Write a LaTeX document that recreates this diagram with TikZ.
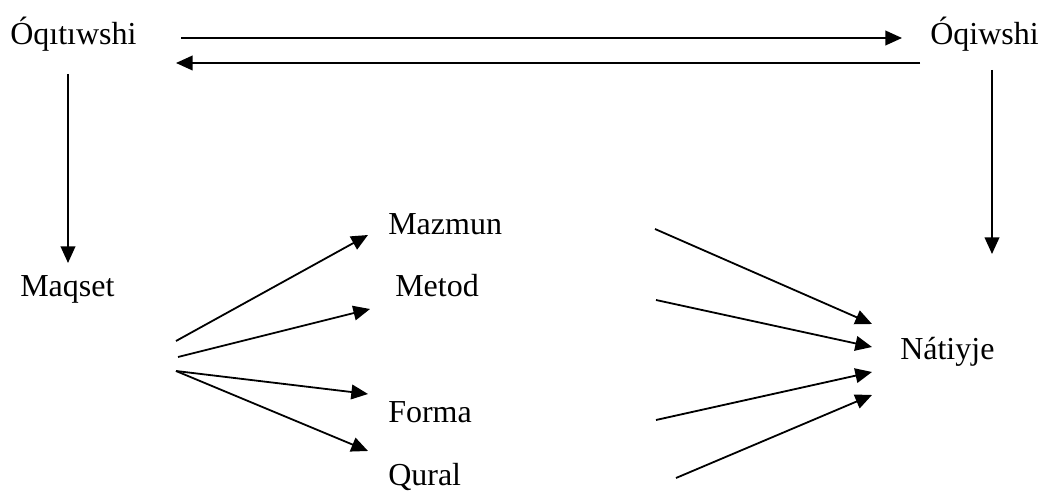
\documentclass[tikz,border=0pt]{standalone}
\usepackage{fontspec}
\setmainfont{Liberation Serif}
\usetikzlibrary{arrows.meta}
\tikzset{
  lbl/.style={anchor=base west, inner sep=0pt, font=\fontsize{24}{28}\selectfont},
  arr/.style={line width=1.35pt, -{Triangle[length=12.5pt,width=11pt]}}
}
\begin{document}
\begin{tikzpicture}[x=0.75pt,y=-0.75pt]
\useasboundingbox (0,0) rectangle (1040,491);
% labels
\node[lbl] (teacher) at (10,45) {Óqıtıwshi};
\node[lbl] (student) at (930,45) {Óqiwshi};
\node[lbl] (goal) at (20,297) {Maqset};
\node[lbl] (content) at (388,235) {Mazmun};
\node[lbl] (method) at (395,297) {Metod};
\node[lbl] (form) at (388,423) {Forma};
\node[lbl] (tool) at (388,486) {Qural};
\node[lbl] (result) at (900,360) {Nátiyje};
% connector end points
\coordinate (t1s) at (181,38);  \coordinate (t1e) at (902,38);
\coordinate (t2s) at (920,63);  \coordinate (t2e) at (176,63);
\coordinate (v1s) at (68,74);   \coordinate (v1e) at (68,263);
\coordinate (v2s) at (992,70);  \coordinate (v2e) at (992,254);
\coordinate (g1) at (176,341); \coordinate (c1) at (368,235);
\coordinate (g2) at (178,357); \coordinate (m1) at (370,309);
\coordinate (g3) at (176,371); \coordinate (f1) at (368,394);
\coordinate (q1) at (368,451);
\coordinate (c2) at (655,229); \coordinate (r1) at (872,324);
\coordinate (m2) at (656,300); \coordinate (r2) at (872,347);
\coordinate (f2) at (656,420); \coordinate (r3) at (872,372);
\coordinate (q2) at (676,478); \coordinate (r4) at (872,395);
% connectors
\draw[arr] (t1s) -- (t1e);
\draw[arr] (t2s) -- (t2e);
\draw[arr] (v1s) -- (v1e);
\draw[arr] (v2s) -- (v2e);
\draw[arr] (g1) -- (c1);
\draw[arr] (g2) -- (m1);
\draw[arr] (g3) -- (f1);
\draw[arr] (g3) -- (q1);
\draw[arr] (c2) -- (r1);
\draw[arr] (m2) -- (r2);
\draw[arr] (f2) -- (r3);
\draw[arr] (q2) -- (r4);
\end{tikzpicture}
\end{document}
